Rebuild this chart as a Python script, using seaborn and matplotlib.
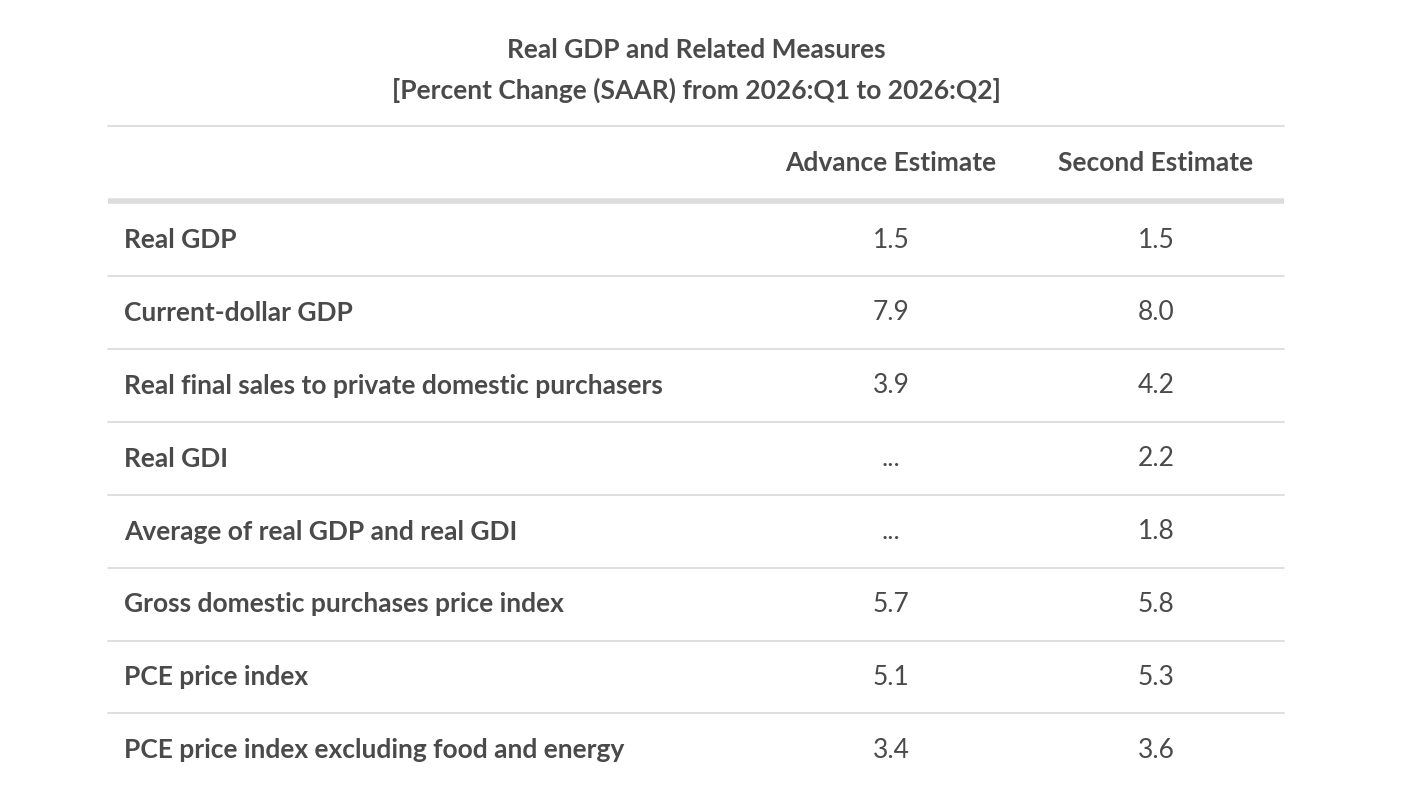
import matplotlib
matplotlib.use('Agg')
import matplotlib.pyplot as plt
import seaborn as sns

sns.set_theme(style='white')
plt.rcParams['font.family'] = ['Lato', 'DejaVu Sans']

title = 'Real GDP and Related Measures'
subtitle = '[Percent Change (SAAR) from 2026:Q1 to 2026:Q2]'
columns = ['Advance Estimate', 'Second Estimate']
measures = [
    'Real GDP',
    'Current-dollar GDP',
    'Real final sales to private domestic purchasers',
    'Real GDI',
    'Average of real GDP and real GDI',
    'Gross domestic purchases price index',
    'PCE price index',
    'PCE price index excluding food and energy',
]
advance = ['1.5', '7.9', '3.9', '...', '...', '5.7', '5.1', '3.4']
second = ['1.5', '8.0', '4.2', '2.2', '1.8', '5.8', '5.3', '3.6']

text_color = '#4a4a4a'

fig = plt.figure(figsize=(14.28, 8.12), dpi=100)
ax = fig.add_axes([0, 0, 1, 1])
ax.set_xlim(0, 1428)
ax.set_ylim(812, 0)
ax.axis('off')

# Title
ax.text(696, 50, title, ha='center', va='center', fontsize=19, fontweight='bold', color=text_color)
ax.text(696, 90, subtitle, ha='center', va='center', fontsize=19, fontweight='bold', color=text_color)

left, right = 108, 1284
col_x = [891, 1156]

ax.plot([left, right], [127, 127], color='#d9d9d9', lw=1.2)
for x, name in zip(col_x, columns):
    ax.text(x, 163, name, ha='center', va='center', fontsize=19, fontweight='bold', color=text_color)
ax.plot([left, right], [202, 202], color='#dddddd', lw=4, solid_capstyle='butt')

row_h = 72.9
for i, (m, a, s) in enumerate(zip(measures, advance, second)):
    y = 240 + i * row_h
    ax.text(124, y, m, ha='left', va='center', fontsize=19, fontweight='bold', color=text_color)
    ax.text(col_x[0], y, a, ha='center', va='center', fontsize=19, color=text_color)
    ax.text(col_x[1], y, s, ha='center', va='center', fontsize=19, color=text_color)
    if i < len(measures) - 1:
        ax.plot([left, right], [y + 37, y + 37], color='#d9d9d9', lw=1.2)

fig.savefig('out.png', dpi=100, facecolor='white')
